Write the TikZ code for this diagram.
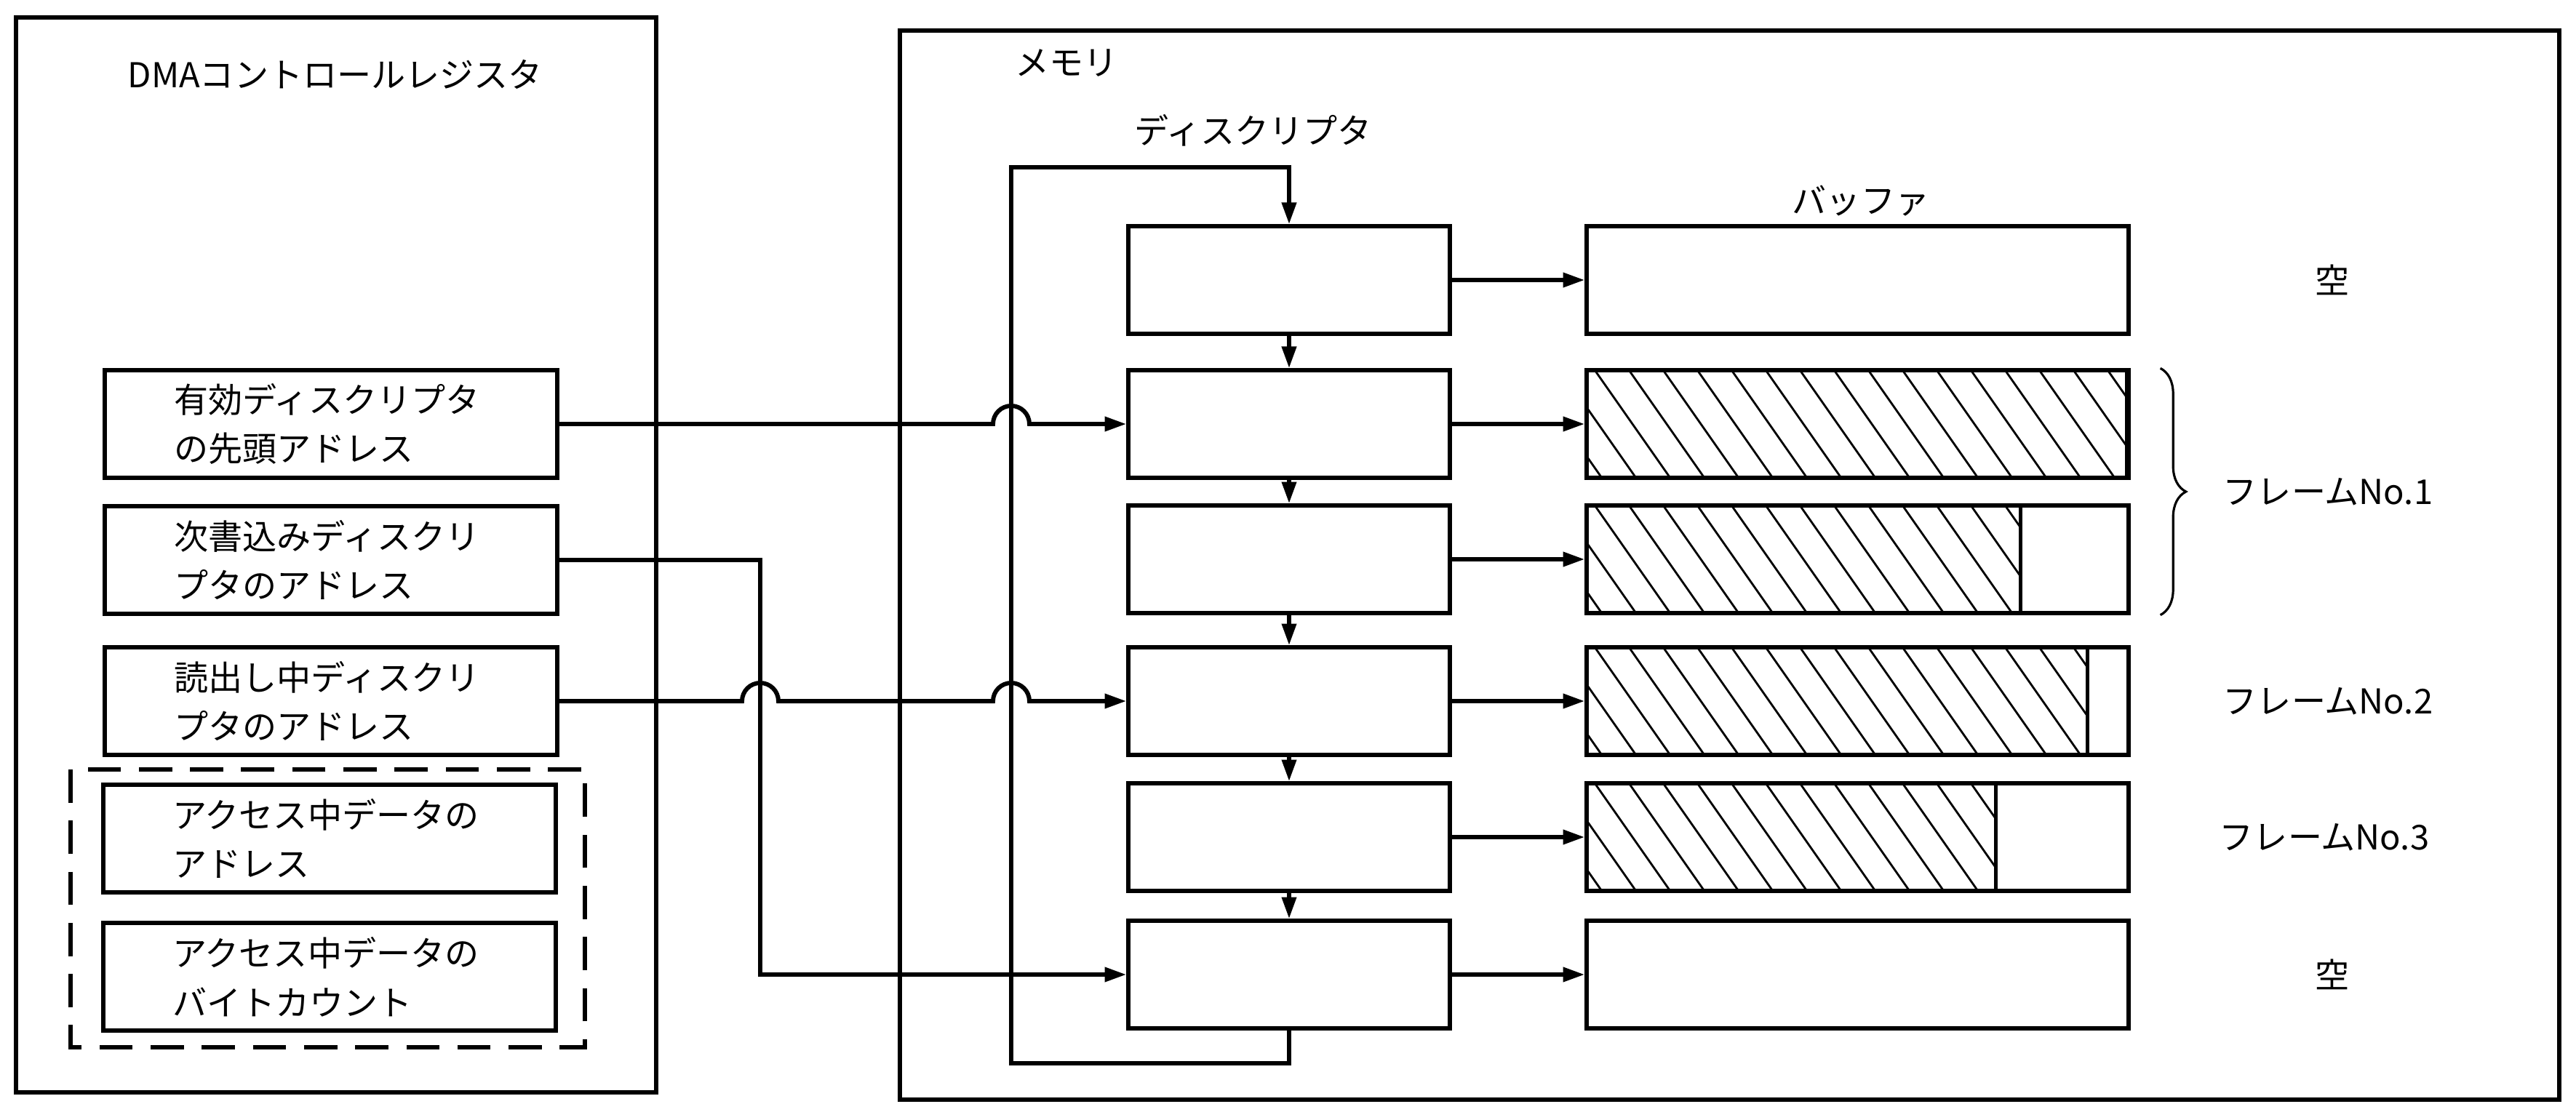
\documentclass[tikz,border=0pt]{standalone}
\usepackage{fontspec}
\setmainfont{Noto Sans CJK JP}
\usetikzlibrary{positioning,calc,arrows.meta,decorations.pathreplacing}

\begin{document}
\begin{tikzpicture}[
  font={\fontsize{13.4pt}{19.3pt}\selectfont},
  frame/.style={draw, line width=1.5pt},
  reg/.style={draw, line width=1.5pt, minimum width=6.22cm, minimum height=1.48cm, text width=4.32cm, inner xsep=0.95cm, inner ysep=0pt, align=left},
  desc/.style={draw, line width=1.5pt, minimum width=4.42cm, minimum height=1.48cm, inner sep=0pt},
  buf/.style={draw, line width=1.5pt, minimum width=7.45cm, minimum height=1.48cm, inner sep=0pt},
  arrow/.style={-{Triangle[length=8.5pt,width=5.5pt]}, line width=1.7pt},
  hatch/.style={line width=0.8pt},
  note/.style={inner sep=0pt}
]
\useasboundingbox (0,0) rectangle (35.41,-15.18);

% outer frames
\draw[frame] (0.22,-0.24) rectangle (9.02,-15.02);
\draw[frame] (12.37,-0.42) rectangle (35.18,-15.12);
\draw[frame, dash pattern=on 13pt off 7pt] (0.97,-10.58) rectangle (8.04,-14.40);

\node[note, anchor=west] (dmatitle) at (1.75,-1.02) {DMAコントロールレジスタ};
\node[note, anchor=west] (memtitle) at (13.95,-0.87) {メモリ};
\node[note, anchor=west] (desctitle) at (15.59,-1.79) {ディスクリプタ};
\node[note] (buftitle) at (25.58,-2.76) {バッファ};

% DMA control registers
\node[reg] (R1) at (4.55,-5.83) {有効ディスクリプタ\\の先頭アドレス};
\node[reg] (R2) at (4.55,-7.70) {次書込みディスクリ\\プタのアドレス};
\node[reg] (R3) at (4.55,-9.64) {読出し中ディスクリ\\プタのアドレス};
\node[reg] (R4) at (4.53,-11.53) {アクセス中データの\\アドレス};
\node[reg] (R5) at (4.53,-13.43) {アクセス中データの\\バイトカウント};

% descriptors and buffers
\node[desc] (D1) at (17.72,-3.85) {};
\node[desc] (D2) at (17.72,-5.83) {};
\node[desc] (D3) at (17.72,-7.69) {};
\node[desc] (D4) at (17.72,-9.64) {};
\node[desc] (D5) at (17.72,-11.51) {};
\node[desc] (D6) at (17.72,-13.40) {};

\node[buf] (B1) at (25.535,-3.85) {};
\node[buf] (B2) at (25.535,-5.83) {};
\node[buf] (B3) at (25.535,-7.69) {};
\node[buf] (B4) at (25.535,-9.64) {};
\node[buf] (B5) at (25.535,-11.51) {};
\node[buf] (B6) at (25.535,-13.40) {};

% filled part of the buffers
\foreach \b/\w in {B2/7.45, B3/5.99, B4/6.91, B5/5.65} {
  \begin{scope}
    \clip (\b.south west) rectangle ($(\b.north west)+(\w,0)$);
    \foreach \k in {-3,...,16}
      \draw[hatch] ($(\b.north west)+({0.12+(\k)*0.47},0)$) -- ++(1.12,-1.6);
  \end{scope}
  \draw[frame] ($(\b.north west)+(\w,0)$) -- ($(\b.south west)+(\w,0)$);
}

\foreach \i/\j in {1/2, 2/3, 3/4, 4/5, 5/6}
  \draw[arrow] (D\i.south) -- (D\j.north);
\foreach \i in {1,...,6}
  \draw[arrow] (D\i.east) -- (B\i.west);

% ring of descriptors
\coordinate (lpt) at (13.90,-2.30);
\coordinate (lpb) at (13.90,-14.62);
\coordinate (rv) at (10.45,-7.70);
\draw[arrow] (D6.south) |- (lpb) -- (lpt) -| (D1.north);

% register pointers
\draw[arrow] (R1.east) -- ($(R1.east -| lpt)+(-0.25,0)$)
  arc[start angle=180, end angle=0, radius=0.25] -- (D2.west);
\draw[arrow] (R2.east) -- (rv) |- (D6.west);
\draw[arrow] (R3.east) -- ($(R3.east -| rv)+(-0.25,0)$)
  arc[start angle=180, end angle=0, radius=0.25] -- ($(R3.east -| lpt)+(-0.25,0)$)
  arc[start angle=180, end angle=0, radius=0.25] -- (D4.west);

% frame labels
\draw[decorate, decoration={brace, amplitude=10pt}, line width=0.9pt]
  ($(B2.north east)+(0.41,0)$) -- ($(B3.south east)+(0.41,0)$);
\node[note] (e1) at (32.06,-3.85) {空};
\node[note] (f1) at (32.0,-6.76) {フレームNo.1};
\node[note] (f2) at (32.0,-9.64) {フレームNo.2};
\node[note] (f3) at (31.95,-11.51) {フレームNo.3};
\node[note] (e2) at (32.06,-13.40) {空};

\end{tikzpicture}
\end{document}
